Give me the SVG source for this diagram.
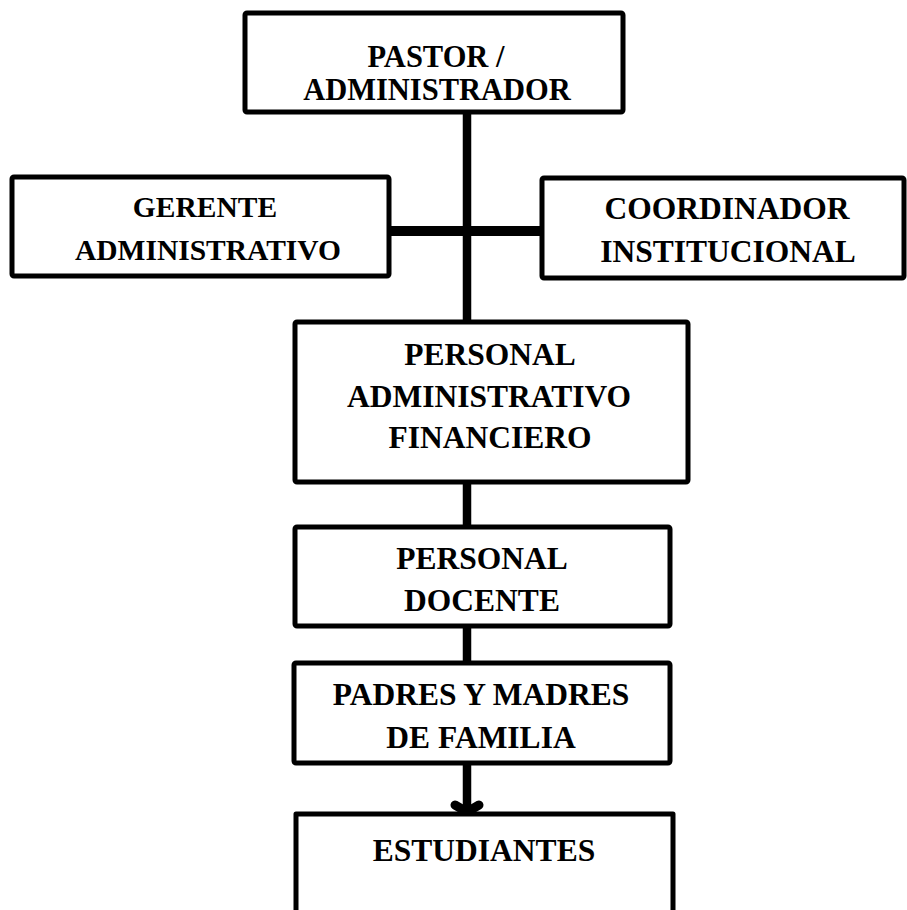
<svg xmlns="http://www.w3.org/2000/svg" width="907" height="910" viewBox="0 0 907 910">
<defs>
<style>
.box{fill:#ffffff;stroke:#000000;stroke-width:5;stroke-linejoin:round}
.lbl{font-family:"Liberation Serif","Times New Roman",serif;font-weight:bold;font-size:31.5px;fill:#000000;text-anchor:middle}
.p{font-size:30.5px}
.g{font-size:29.5px}
.conn{stroke:#000000;stroke-width:8.5;fill:none}
</style>
</defs>
<rect width="907" height="910" fill="#ffffff"/>
<g id="connectors">
<line class="conn" x1="467" y1="112" x2="467" y2="322"/>
<line class="conn" x1="389" y1="231" x2="541" y2="231" style="stroke-width:10"/>
<line class="conn" x1="467" y1="482" x2="467" y2="527"/>
<line class="conn" x1="467" y1="626" x2="467" y2="663"/>
<line class="conn" x1="467" y1="763" x2="467" y2="812"/>
<polyline class="conn" points="455,805 467,812 479,805" style="stroke-linecap:round;stroke-linejoin:round;stroke-width:9"/>
</g>
<g id="pastor">
<rect class="box" x="245" y="13" width="378" height="99" rx="2"/>
<text class="lbl p" x="436" y="67">PASTOR /</text>
<text class="lbl p" x="437" y="100">ADMINISTRADOR</text>
</g>
<g id="gerente">
<rect class="box" x="12" y="177" width="377" height="99" rx="2"/>
<text class="lbl g" x="205" y="217">GERENTE</text>
<text class="lbl g" x="208" y="260">ADMINISTRATIVO</text>
</g>
<g id="coordinador">
<rect class="box" x="542" y="178" width="362" height="100" rx="2"/>
<text class="lbl" x="727" y="219">COORDINADOR</text>
<text class="lbl" x="728" y="262">INSTITUCIONAL</text>
</g>
<g id="personal-admin">
<rect class="box" x="295" y="322" width="393" height="160" rx="2"/>
<text class="lbl" x="490" y="365">PERSONAL</text>
<text class="lbl" x="489" y="407">ADMINISTRATIVO</text>
<text class="lbl" x="490" y="448">FINANCIERO</text>
</g>
<g id="personal-docente">
<rect class="box" x="295" y="527" width="375" height="99" rx="2"/>
<text class="lbl" x="482" y="569">PERSONAL</text>
<text class="lbl" x="482" y="611">DOCENTE</text>
</g>
<g id="padres">
<rect class="box" x="294" y="663" width="376" height="100" rx="2"/>
<text class="lbl" x="481" y="705">PADRES Y MADRES</text>
<text class="lbl" x="481" y="748">DE FAMILIA</text>
</g>
<g id="estudiantes">
<path class="box" d="M296,915 L296,814 L673,814 L673,915"/>
<text class="lbl" x="484" y="861">ESTUDIANTES</text>
</g>
</svg>
